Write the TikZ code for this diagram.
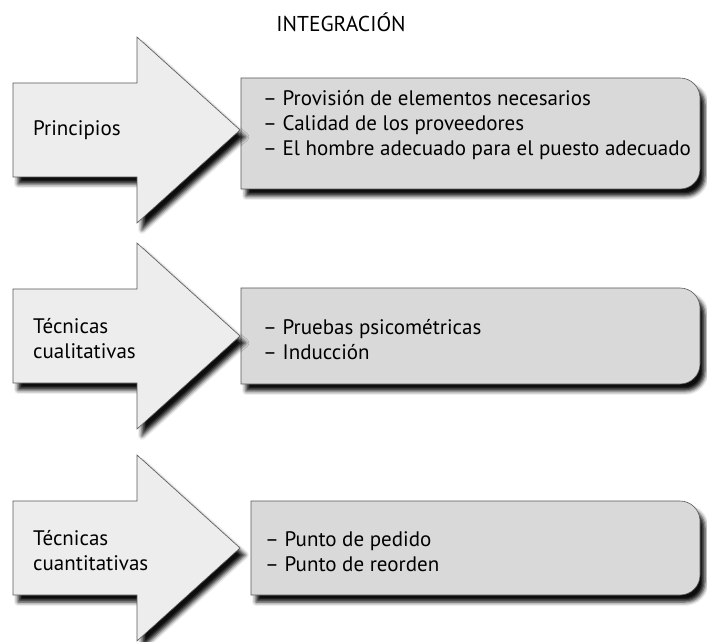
\documentclass[tikz,border=0pt]{standalone}
\usepackage{fontspec}
\setmainfont{PT Sans}
\usetikzlibrary{shadows.blur}

\tikzset{
  sombra/.style={blur shadow={shadow xshift=5pt, shadow yshift=-7pt, shadow blur radius=4pt, shadow opacity=95}},
  flecha/.style={fill=gray!14, draw=gray!70!black, line width=0.6pt, line join=miter, sombra},
  caja/.style={fill=gray!30, draw=gray!70!black, line width=0.6pt, sombra},
  titulo/.style={font=\fontsize{21.5}{24}\selectfont},
  lista/.style={font=\fontsize{21}{25}\selectfont, align=left, anchor=west, inner sep=0pt},
}

\begin{document}
\begin{tikzpicture}[x=1pt,y=1pt]
\useasboundingbox (0,0) rectangle (707,641);
% Title
\node[titulo] (tit) at (341,619) {INTEGRACIÓN};
% Boxes first, so that the arrow shadows fall on them
\foreach \bx/\by/\bt in {241/452/563, 241/257/353, 251/46/140} {
  \path[caja] (\bx,\by) -- (\bx,\bt) -- (680,\bt)
    arc[start angle=90, end angle=0, radius=20] -- (700,\by+20)
    arc[start angle=0, end angle=-90, radius=20] -- cycle;
}
% Arrows: body half height 47, head half height 93, tip at x = 240
\foreach \cy in {511, 305, 93} {
  \path[flecha] (13,\cy-47) -- (13,\cy+47) -- (137,\cy+47) -- (137,\cy+93)
    -- (240,\cy) -- (137,\cy-93) -- (137,\cy-47) -- cycle;
}
% Labels on the arrows
\node[lista] (pri) at (33,511) {Principios};
\node[lista] (cua) at (33,302) {Técnicas\\cualitativas};
\node[lista] (cnt) at (33,90) {Técnicas\\cuantitativas};
% Lists in the boxes
\node[lista] (lpri) at (263,516) {– Provisión de elementos necesarios\\– Calidad de los proveedores\\– El hombre adecuado para el puesto adecuado};
\node[lista] (lcua) at (263,301) {– Pruebas psicométricas\\– Inducción};
\node[lista] (lcnt) at (265,89) {– Punto de pedido\\– Punto de reorden};
\end{tikzpicture}
\end{document}
